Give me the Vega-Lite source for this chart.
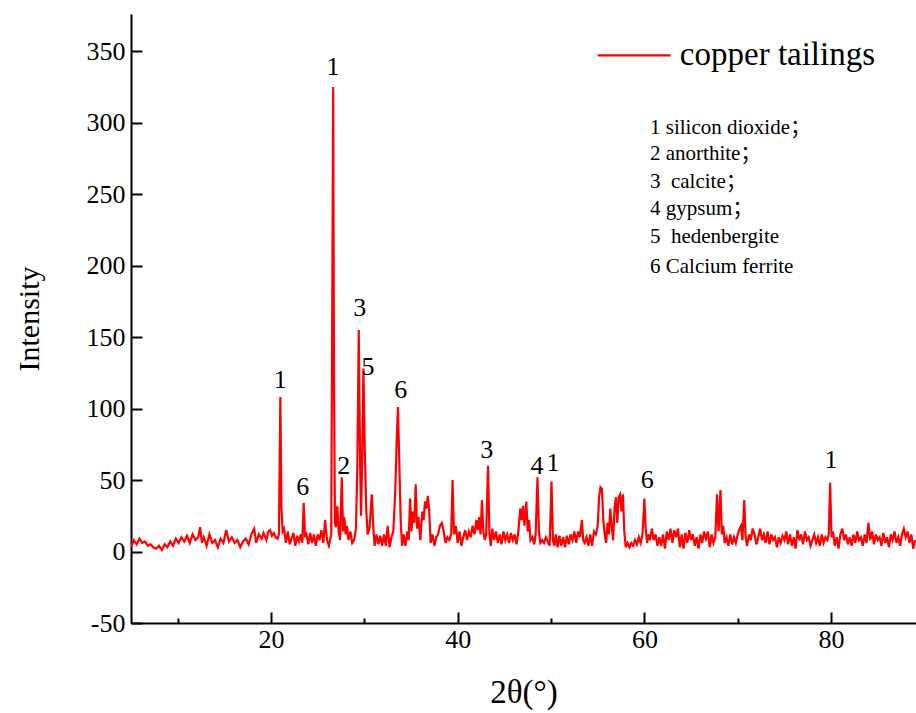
{
  "$schema": "https://vega.github.io/schema/vega-lite/v6.json",
  "width": 785,
  "height": 609,
  "autosize": {"type": "none"},
  "padding": {"left": 131, "top": 14, "right": 0, "bottom": 90},
  "background": "white",
  "config": {
    "view": {"stroke": null},
    "font": "Liberation Serif",
    "axis": {"grid": false, "domainColor": "black", "domainWidth": 2, "tickColor": "black", "tickWidth": 2, "labelColor": "black", "titleColor": "black", "labelFont": "Liberation Serif", "titleFont": "Liberation Serif", "labelFontSize": 26, "titleFontSize": 30, "titleFontWeight": "normal"}
  },
  "datasets": {
    "xrd": [
      {"t":5.0,"i":3},{"t":5.3,"i":8},{"t":5.6,"i":5},{"t":5.9,"i":9},{"t":6.2,"i":6},{"t":6.5,"i":7},{"t":6.8,"i":4},{"t":7.1,"i":5},{"t":7.4,"i":3},{"t":7.7,"i":2},
      {"t":8.0,"i":4},{"t":8.3,"i":1},{"t":8.6,"i":5},{"t":8.9,"i":3},{"t":9.2,"i":7},{"t":9.5,"i":4},{"t":9.8,"i":9},{"t":10.1,"i":6},{"t":10.4,"i":10},{"t":10.7,"i":7},
      {"t":11.0,"i":11},{"t":11.3,"i":6},{"t":11.6,"i":12},{"t":11.9,"i":8},{"t":12.2,"i":10},{"t":12.4,"i":17},{"t":12.6,"i":6},{"t":12.8,"i":10},{"t":13.1,"i":4},{"t":13.4,"i":12},
      {"t":13.7,"i":6},{"t":14.0,"i":8},{"t":14.3,"i":3},{"t":14.6,"i":9},{"t":14.9,"i":6},{"t":15.2,"i":15},{"t":15.5,"i":7},{"t":15.8,"i":10},{"t":16.1,"i":6},{"t":16.4,"i":8},
      {"t":16.7,"i":3},{"t":17.0,"i":7},{"t":17.3,"i":9},{"t":17.6,"i":5},{"t":17.9,"i":12},{"t":18.2,"i":16},{"t":18.4,"i":6},{"t":18.7,"i":12},{"t":19.0,"i":9},{"t":19.2,"i":13},
      {"t":19.5,"i":8},{"t":19.7,"i":14},{"t":19.9,"i":15},{"t":20.1,"i":11},{"t":20.3,"i":13},{"t":20.5,"i":10},{"t":20.7,"i":9},{"t":20.85,"i":12},{"t":21.0,"i":108},{"t":21.12,"i":30},
      {"t":21.25,"i":14},{"t":21.4,"i":16},{"t":21.6,"i":6},{"t":21.8,"i":14},{"t":22.0,"i":5},{"t":22.2,"i":9},{"t":22.4,"i":13},{"t":22.6,"i":4},{"t":22.8,"i":11},{"t":23.0,"i":7},
      {"t":23.2,"i":12},{"t":23.35,"i":6},{"t":23.5,"i":34},{"t":23.65,"i":10},{"t":23.8,"i":12},{"t":24.0,"i":5},{"t":24.2,"i":13},{"t":24.4,"i":6},{"t":24.6,"i":12},{"t":24.8,"i":4},
      {"t":25.0,"i":12},{"t":25.2,"i":8},{"t":25.4,"i":15},{"t":25.6,"i":6},{"t":25.8,"i":22},{"t":26.0,"i":8},{"t":26.2,"i":4},{"t":26.45,"i":12},{"t":26.58,"i":200},{"t":26.66,"i":325},
      {"t":26.75,"i":120},{"t":26.85,"i":20},{"t":26.95,"i":17},{"t":27.1,"i":32},{"t":27.25,"i":14},{"t":27.4,"i":8},{"t":27.58,"i":52},{"t":27.72,"i":14},{"t":27.85,"i":24},{"t":28.0,"i":12},
      {"t":28.15,"i":18},{"t":28.3,"i":8},{"t":28.5,"i":14},{"t":28.7,"i":6},{"t":28.9,"i":8},{"t":29.1,"i":16},{"t":29.25,"i":60},{"t":29.4,"i":155},{"t":29.55,"i":60},{"t":29.65,"i":25},
      {"t":29.78,"i":70},{"t":29.9,"i":128},{"t":30.05,"i":70},{"t":30.2,"i":30},{"t":30.35,"i":12},{"t":30.55,"i":16},{"t":30.8,"i":40},{"t":30.95,"i":18},{"t":31.1,"i":4},{"t":31.3,"i":12},
      {"t":31.5,"i":5},{"t":31.7,"i":11},{"t":31.9,"i":4},{"t":32.1,"i":12},{"t":32.3,"i":4},{"t":32.5,"i":18},{"t":32.7,"i":3},{"t":32.9,"i":10},{"t":33.1,"i":14},{"t":33.3,"i":40},
      {"t":33.45,"i":75},{"t":33.6,"i":101},{"t":33.75,"i":60},{"t":33.9,"i":20},{"t":34.05,"i":4},{"t":34.2,"i":12},{"t":34.4,"i":4},{"t":34.6,"i":14},{"t":34.75,"i":8},{"t":34.9,"i":37},
      {"t":35.05,"i":14},{"t":35.2,"i":28},{"t":35.35,"i":20},{"t":35.5,"i":47},{"t":35.65,"i":16},{"t":35.8,"i":24},{"t":36.0,"i":8},{"t":36.2,"i":28},{"t":36.35,"i":22},{"t":36.5,"i":35},
      {"t":36.65,"i":30},{"t":36.8,"i":39},{"t":36.95,"i":28},{"t":37.1,"i":6},{"t":37.3,"i":12},{"t":37.5,"i":4},{"t":37.7,"i":10},{"t":37.9,"i":12},{"t":38.1,"i":18},{"t":38.3,"i":20},
      {"t":38.5,"i":14},{"t":38.7,"i":6},{"t":38.9,"i":10},{"t":39.1,"i":8},{"t":39.3,"i":12},{"t":39.45,"i":50},{"t":39.6,"i":12},{"t":39.8,"i":18},{"t":40.0,"i":6},{"t":40.2,"i":14},
      {"t":40.4,"i":4},{"t":40.6,"i":10},{"t":40.8,"i":15},{"t":41.0,"i":8},{"t":41.2,"i":14},{"t":41.4,"i":10},{"t":41.6,"i":18},{"t":41.8,"i":12},{"t":42.0,"i":22},{"t":42.15,"i":15},
      {"t":42.3,"i":24},{"t":42.45,"i":12},{"t":42.6,"i":36},{"t":42.75,"i":14},{"t":42.9,"i":8},{"t":43.05,"i":12},{"t":43.25,"i":60},{"t":43.4,"i":12},{"t":43.55,"i":4},{"t":43.7,"i":16},
      {"t":43.9,"i":8},{"t":44.1,"i":14},{"t":44.3,"i":6},{"t":44.5,"i":12},{"t":44.7,"i":5},{"t":44.9,"i":14},{"t":45.1,"i":8},{"t":45.3,"i":12},{"t":45.5,"i":6},{"t":45.7,"i":13},
      {"t":45.9,"i":8},{"t":46.1,"i":12},{"t":46.3,"i":5},{"t":46.5,"i":14},{"t":46.7,"i":30},{"t":46.85,"i":22},{"t":47.0,"i":32},{"t":47.15,"i":18},{"t":47.35,"i":35},{"t":47.5,"i":14},
      {"t":47.65,"i":22},{"t":47.8,"i":8},{"t":48.0,"i":10},{"t":48.2,"i":5},{"t":48.35,"i":12},{"t":48.55,"i":52},{"t":48.7,"i":14},{"t":48.85,"i":6},{"t":49.05,"i":8},{"t":49.25,"i":6},
      {"t":49.45,"i":10},{"t":49.65,"i":7},{"t":49.85,"i":4},{"t":50.05,"i":49},{"t":50.2,"i":8},{"t":50.35,"i":4},{"t":50.5,"i":12},{"t":50.7,"i":3},{"t":50.9,"i":11},{"t":51.1,"i":4},
      {"t":51.3,"i":10},{"t":51.5,"i":3},{"t":51.7,"i":11},{"t":51.9,"i":5},{"t":52.1,"i":12},{"t":52.3,"i":8},{"t":52.5,"i":14},{"t":52.7,"i":6},{"t":52.9,"i":14},{"t":53.1,"i":10},
      {"t":53.3,"i":22},{"t":53.45,"i":8},{"t":53.6,"i":6},{"t":53.8,"i":10},{"t":54.0,"i":4},{"t":54.2,"i":12},{"t":54.4,"i":4},{"t":54.6,"i":14},{"t":54.8,"i":12},{"t":55.0,"i":18},
      {"t":55.15,"i":38},{"t":55.3,"i":45},{"t":55.45,"i":44},{"t":55.6,"i":22},{"t":55.75,"i":12},{"t":55.9,"i":6},{"t":56.05,"i":20},{"t":56.2,"i":12},{"t":56.35,"i":30},{"t":56.5,"i":18},
      {"t":56.65,"i":8},{"t":56.8,"i":30},{"t":56.95,"i":38},{"t":57.1,"i":20},{"t":57.25,"i":38},{"t":57.4,"i":40},{"t":57.55,"i":28},{"t":57.7,"i":40},{"t":57.85,"i":14},{"t":58.0,"i":3},
      {"t":58.2,"i":6},{"t":58.4,"i":3},{"t":58.6,"i":6},{"t":58.8,"i":4},{"t":59.0,"i":8},{"t":59.2,"i":5},{"t":59.4,"i":10},{"t":59.6,"i":6},{"t":59.8,"i":12},{"t":60.0,"i":37},
      {"t":60.15,"i":15},{"t":60.3,"i":6},{"t":60.45,"i":12},{"t":60.6,"i":8},{"t":60.8,"i":16},{"t":61.0,"i":8},{"t":61.2,"i":12},{"t":61.4,"i":4},{"t":61.6,"i":10},{"t":61.8,"i":4},
      {"t":62.0,"i":12},{"t":62.2,"i":2},{"t":62.4,"i":14},{"t":62.6,"i":8},{"t":62.8,"i":16},{"t":63.0,"i":6},{"t":63.2,"i":15},{"t":63.4,"i":10},{"t":63.6,"i":16},{"t":63.8,"i":3},
      {"t":64.0,"i":12},{"t":64.2,"i":2},{"t":64.4,"i":13},{"t":64.6,"i":6},{"t":64.8,"i":15},{"t":65.0,"i":8},{"t":65.2,"i":12},{"t":65.4,"i":4},{"t":65.6,"i":10},{"t":65.8,"i":2},
      {"t":66.0,"i":12},{"t":66.2,"i":6},{"t":66.4,"i":14},{"t":66.6,"i":9},{"t":66.8,"i":14},{"t":67.0,"i":3},{"t":67.2,"i":12},{"t":67.4,"i":6},{"t":67.6,"i":10},{"t":67.78,"i":40},
      {"t":67.95,"i":14},{"t":68.15,"i":43},{"t":68.3,"i":12},{"t":68.45,"i":18},{"t":68.6,"i":6},{"t":68.8,"i":10},{"t":69.0,"i":4},{"t":69.2,"i":12},{"t":69.4,"i":5},{"t":69.6,"i":10},
      {"t":69.8,"i":6},{"t":70.0,"i":12},{"t":70.2,"i":16},{"t":70.35,"i":18},{"t":70.5,"i":8},{"t":70.7,"i":36},{"t":70.85,"i":10},{"t":71.0,"i":4},{"t":71.2,"i":12},{"t":71.4,"i":8},
      {"t":71.6,"i":16},{"t":71.8,"i":12},{"t":72.0,"i":5},{"t":72.2,"i":10},{"t":72.4,"i":16},{"t":72.6,"i":8},{"t":72.8,"i":12},{"t":73.0,"i":6},{"t":73.2,"i":14},{"t":73.4,"i":5},
      {"t":73.6,"i":12},{"t":73.8,"i":8},{"t":74.0,"i":10},{"t":74.2,"i":3},{"t":74.4,"i":10},{"t":74.6,"i":6},{"t":74.8,"i":11},{"t":75.0,"i":8},{"t":75.2,"i":14},{"t":75.4,"i":5},
      {"t":75.6,"i":12},{"t":75.8,"i":4},{"t":76.0,"i":10},{"t":76.2,"i":2},{"t":76.4,"i":15},{"t":76.6,"i":8},{"t":76.8,"i":12},{"t":77.0,"i":5},{"t":77.2,"i":14},{"t":77.4,"i":8},
      {"t":77.6,"i":10},{"t":77.8,"i":4},{"t":78.0,"i":8},{"t":78.2,"i":12},{"t":78.4,"i":6},{"t":78.6,"i":10},{"t":78.8,"i":4},{"t":79.0,"i":12},{"t":79.2,"i":6},{"t":79.4,"i":10},
      {"t":79.6,"i":8},{"t":79.75,"i":12},{"t":79.9,"i":48},{"t":80.05,"i":10},{"t":80.2,"i":14},{"t":80.4,"i":4},{"t":80.6,"i":10},{"t":80.8,"i":2},{"t":81.0,"i":12},{"t":81.2,"i":16},
      {"t":81.4,"i":8},{"t":81.6,"i":12},{"t":81.8,"i":5},{"t":82.0,"i":10},{"t":82.2,"i":4},{"t":82.4,"i":12},{"t":82.6,"i":6},{"t":82.8,"i":14},{"t":83.0,"i":8},{"t":83.2,"i":10},
      {"t":83.4,"i":4},{"t":83.6,"i":12},{"t":83.8,"i":6},{"t":84.0,"i":20},{"t":84.2,"i":8},{"t":84.4,"i":14},{"t":84.6,"i":5},{"t":84.8,"i":12},{"t":85.0,"i":8},{"t":85.2,"i":10},
      {"t":85.4,"i":4},{"t":85.6,"i":13},{"t":85.8,"i":6},{"t":86.0,"i":10},{"t":86.2,"i":3},{"t":86.4,"i":12},{"t":86.6,"i":8},{"t":86.8,"i":14},{"t":87.0,"i":6},{"t":87.2,"i":10},
      {"t":87.4,"i":4},{"t":87.6,"i":12},{"t":87.8,"i":16},{"t":88.0,"i":10},{"t":88.2,"i":14},{"t":88.4,"i":6},{"t":88.6,"i":12},{"t":88.8,"i":2},{"t":89.0,"i":8}
    ],
    "peaks": [
      {"t":26.65,"i":339,"lab":"1"},{"t":21.0,"i":120,"lab":"1"},{"t":23.4,"i":45,"lab":"6"},{"t":27.8,"i":60,"lab":"2"},
      {"t":29.5,"i":170,"lab":"3"},{"t":30.4,"i":129,"lab":"5"},{"t":33.9,"i":113,"lab":"6"},{"t":43.1,"i":71,"lab":"3"},
      {"t":48.5,"i":60,"lab":"4"},{"t":50.2,"i":62,"lab":"1"},{"t":60.3,"i":50,"lab":"6"},{"t":80.0,"i":64,"lab":"1"}
    ],
    "legline": [{"t":55.0,"t2":62.8,"i":347}],
    "legtext": [{"t":63.8,"i":347,"lab":"copper tailings"}],
    "notes": [
      {"t":60.6,"i":296.5,"lab":"1 silicon dioxide；"},
      {"t":60.6,"i":278.3,"lab":"2 anorthite；"},
      {"t":60.6,"i":258.7,"lab":"3 \u00a0calcite；"},
      {"t":60.6,"i":239.9,"lab":"4 gypsum；"},
      {"t":60.6,"i":220.3,"lab":"5 \u00a0hedenbergite"},
      {"t":60.6,"i":199.3,"lab":"6 Calcium ferrite"}
    ]
  },
  "layer": [
    {
      "data": {"name": "xrd"},
      "mark": {"type": "line", "color": "#ff0000", "strokeWidth": 2.2, "clip": true},
      "encoding": {
        "x": {"field": "t", "type": "quantitative", "scale": {"domain": [5, 89.1], "nice": false, "zero": false},
          "axis": {"title": "2θ(°)", "titleFontSize": 33, "values": [10, 20, 30, 40, 50, 60, 70, 80], "labelExpr": "datum.value % 20 === 0 ? toString(datum.value) : ''",
            "tickSize": {"condition": {"test": "datum.value % 20 === 0", "value": -11}, "value": -5}, "labelPadding": 14, "titlePadding": 24}},
        "y": {"field": "i", "type": "quantitative", "scale": {"domain": [-50, 376], "nice": false, "zero": false},
          "axis": {"title": "Intensity", "values": [-50, -25, 0, 25, 50, 75, 100, 125, 150, 175, 200, 225, 250, 275, 300, 325, 350], "labelExpr": "datum.value % 50 === 0 ? toString(datum.value) : ''",
            "tickSize": {"condition": {"test": "datum.value % 50 === 0", "value": -11}, "value": -5}, "labelPadding": 17, "titlePadding": 42}}
      }
    },
    {
      "data": {"name": "peaks"},
      "mark": {"type": "text", "fontSize": 26, "font": "Liberation Serif", "color": "black", "baseline": "middle", "align": "center"},
      "encoding": {"x": {"field": "t", "type": "quantitative"}, "y": {"field": "i", "type": "quantitative"}, "text": {"field": "lab"}}
    },
    {
      "data": {"name": "legline"},
      "mark": {"type": "rule", "color": "#ff0000", "strokeWidth": 2.2},
      "encoding": {"x": {"field": "t", "type": "quantitative"}, "x2": {"field": "t2"}, "y": {"field": "i", "type": "quantitative"}}
    },
    {
      "data": {"name": "legtext"},
      "mark": {"type": "text", "fontSize": 33, "font": "Liberation Serif", "color": "black", "baseline": "middle", "align": "left"},
      "encoding": {"x": {"field": "t", "type": "quantitative"}, "y": {"field": "i", "type": "quantitative"}, "text": {"field": "lab"}}
    },
    {
      "data": {"name": "notes"},
      "mark": {"type": "text", "fontSize": 21, "font": "Liberation Serif, Noto Sans CJK SC", "color": "black", "baseline": "middle", "align": "left"},
      "encoding": {"x": {"field": "t", "type": "quantitative"}, "y": {"field": "i", "type": "quantitative"}, "text": {"field": "lab"}}
    },
    {
      "mark": {"type": "rule", "color": "black", "strokeWidth": 2},
      "encoding": {"y": {"datum": 376}}
    }
  ]
}
